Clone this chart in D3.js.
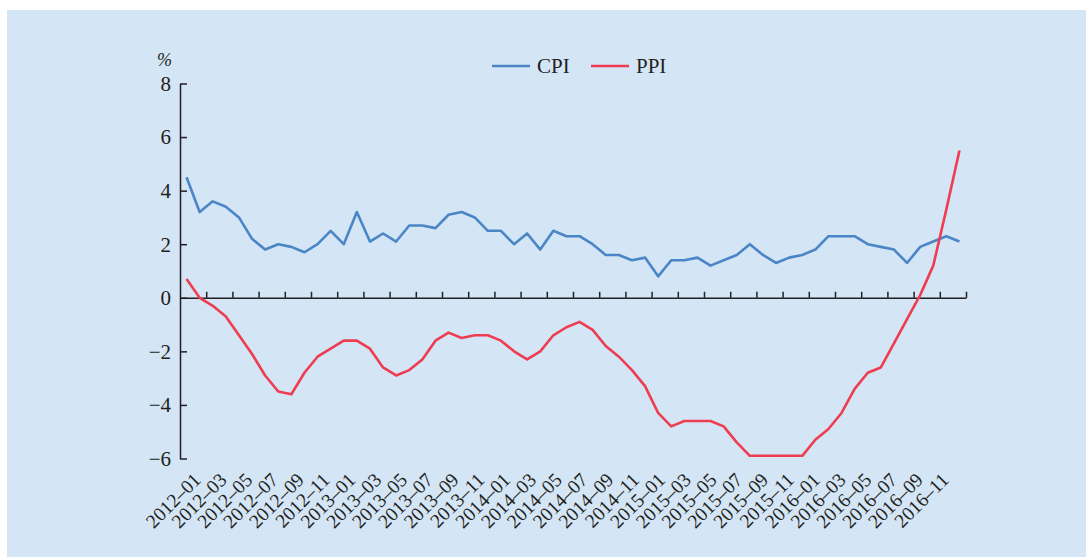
<!DOCTYPE html>
<html>
<head>
<meta charset="utf-8">
<script src="https://cdn.jsdelivr.net/npm/d3@7/dist/d3.min.js"></script>
<style>
  html, body { margin: 0; padding: 0; background: #ffffff; }
  svg { display: block; }
</style>
</head>
<body>
<svg id="chart" width="1086" height="557"></svg>
<script>
// ---------- data ----------
const years = ["2012", "2013", "2014", "2015", "2016"];
const monthNums = ["01","02","03","04","05","06","07","08","09","10","11","12"];
const months = years.flatMap(yr => monthNums.map(m => yr + "–" + m));

const cpi = [
  4.5, 3.2, 3.6, 3.4, 3.0, 2.2, 1.8, 2.0, 1.9, 1.7, 2.0, 2.5,
  2.0, 3.2, 2.1, 2.4, 2.1, 2.7, 2.7, 2.6, 3.1, 3.2, 3.0, 2.5,
  2.5, 2.0, 2.4, 1.8, 2.5, 2.3, 2.3, 2.0, 1.6, 1.6, 1.4, 1.5,
  0.8, 1.4, 1.4, 1.5, 1.2, 1.4, 1.6, 2.0, 1.6, 1.3, 1.5, 1.6,
  1.8, 2.3, 2.3, 2.3, 2.0, 1.9, 1.8, 1.3, 1.9, 2.1, 2.3, 2.1
];
const ppi = [
  0.7, 0.0, -0.3, -0.7, -1.4, -2.1, -2.9, -3.5, -3.6, -2.8, -2.2, -1.9,
  -1.6, -1.6, -1.9, -2.6, -2.9, -2.7, -2.3, -1.6, -1.3, -1.5, -1.4, -1.4,
  -1.6, -2.0, -2.3, -2.0, -1.4, -1.1, -0.9, -1.2, -1.8, -2.2, -2.7, -3.3,
  -4.3, -4.8, -4.6, -4.6, -4.6, -4.8, -5.4, -5.9, -5.9, -5.9, -5.9, -5.9,
  -5.3, -4.9, -4.3, -3.4, -2.8, -2.6, -1.7, -0.8, 0.1, 1.2, 3.3, 5.5
];
const yTicks = [-6, -4, -2, 0, 2, 4, 6, 8];
const labelMonths = months.filter((d, i) => i % 2 === 0);
const seriesNames = ["CPI", "PPI"];

// ---------- layout ----------
const W = 1086, H = 557;
const mLeft = 180, mRight = 966, mTop = 83.5, mBottom = 458.5;
const colors = { CPI: "#4a86c6", PPI: "#ee3d51" };
const font = "'Liberation Serif', 'Times New Roman', serif";

const svg = d3.select("#chart");
svg.append("rect").attr("x", 7).attr("y", 10).attr("width", W - 7).attr("height", H - 10)
  .attr("fill", "#d4e5f5");

const x = d3.scaleBand().domain(months).range([mLeft, mRight]).padding(0);
const xIdx = d3.scaleLinear().domain([0, months.length]).range([mLeft, mRight]);
const y = d3.scaleLinear().domain([-6, 8]).range([mBottom, mTop]);

// y axis (ticks pointing inward)
const yAxis = d3.axisRight(y).tickValues(yTicks).tickSize(7).tickSizeOuter(0).tickFormat("");
const gy = svg.append("g").attr("transform", `translate(${mLeft},0)`).call(yAxis);
gy.select(".domain").attr("stroke", "#231f20").attr("stroke-width", 1.5);
gy.selectAll(".tick line").attr("stroke", "#231f20").attr("stroke-width", 1.5);

svg.append("g").selectAll("text").data(yTicks).join("text")
  .attr("x", mLeft - 9).attr("y", d => y(d)).attr("dy", "0.35em")
  .attr("text-anchor", "end")
  .attr("font-family", font).attr("font-size", 21).attr("fill", "#231f20")
  .text(d => d < 0 ? "−" + Math.abs(d) : String(d));

// x axis at y=0, ticks up every two months
const xTickVals = d3.range(2, months.length + 1, 2);
const xAxis = d3.axisTop(xIdx).tickValues(xTickVals).tickSize(6).tickSizeOuter(0).tickFormat("");
const gx = svg.append("g").attr("transform", `translate(0,${y(0)})`).call(xAxis);
gx.select(".domain").attr("stroke", "#231f20").attr("stroke-width", 1.5);
gx.selectAll(".tick line").attr("stroke", "#231f20").attr("stroke-width", 1.5);

// rotated x labels
const labelX = d3.scaleLinear().domain([0, labelMonths.length - 1]).range([202, 950]);
svg.append("g").selectAll("text").data(labelMonths).join("text")
  .attr("transform", (d, i) => `translate(${labelX(i)},481) rotate(-45)`)
  .attr("text-anchor", "end")
  .attr("font-family", font).attr("font-size", 19.5).attr("fill", "#231f20")
  .text(d => d);

// % unit
svg.append("text").attr("x", 157).attr("y", 66)
  .attr("font-family", font).attr("font-size", 18).attr("font-style", "italic").attr("fill", "#231f20")
  .text("%");

// lines
const line = d3.line().x((d, i) => x(months[i]) + x.bandwidth() / 2).y(d => y(d));
const seriesData = { CPI: cpi, PPI: ppi };
seriesNames.forEach(name => {
  svg.append("path").datum(seriesData[name])
    .attr("fill", "none").attr("stroke", colors[name]).attr("stroke-width", 2.6)
    .attr("stroke-linejoin", "round").attr("stroke-linecap", "butt")
    .attr("d", line);
});

// legend
const legendX = [492, 591];
const leg = svg.append("g");
seriesNames.forEach((name, i) => {
  leg.append("line").attr("x1", legendX[i]).attr("x2", legendX[i] + 38)
    .attr("y1", 66).attr("y2", 66).attr("stroke", colors[name]).attr("stroke-width", 2.6);
  leg.append("text").attr("x", legendX[i] + 45).attr("y", 66).attr("dy", "0.35em")
    .attr("font-family", font).attr("font-size", 21).attr("fill", "#231f20").text(name);
});
</script>
</body>
</html>
